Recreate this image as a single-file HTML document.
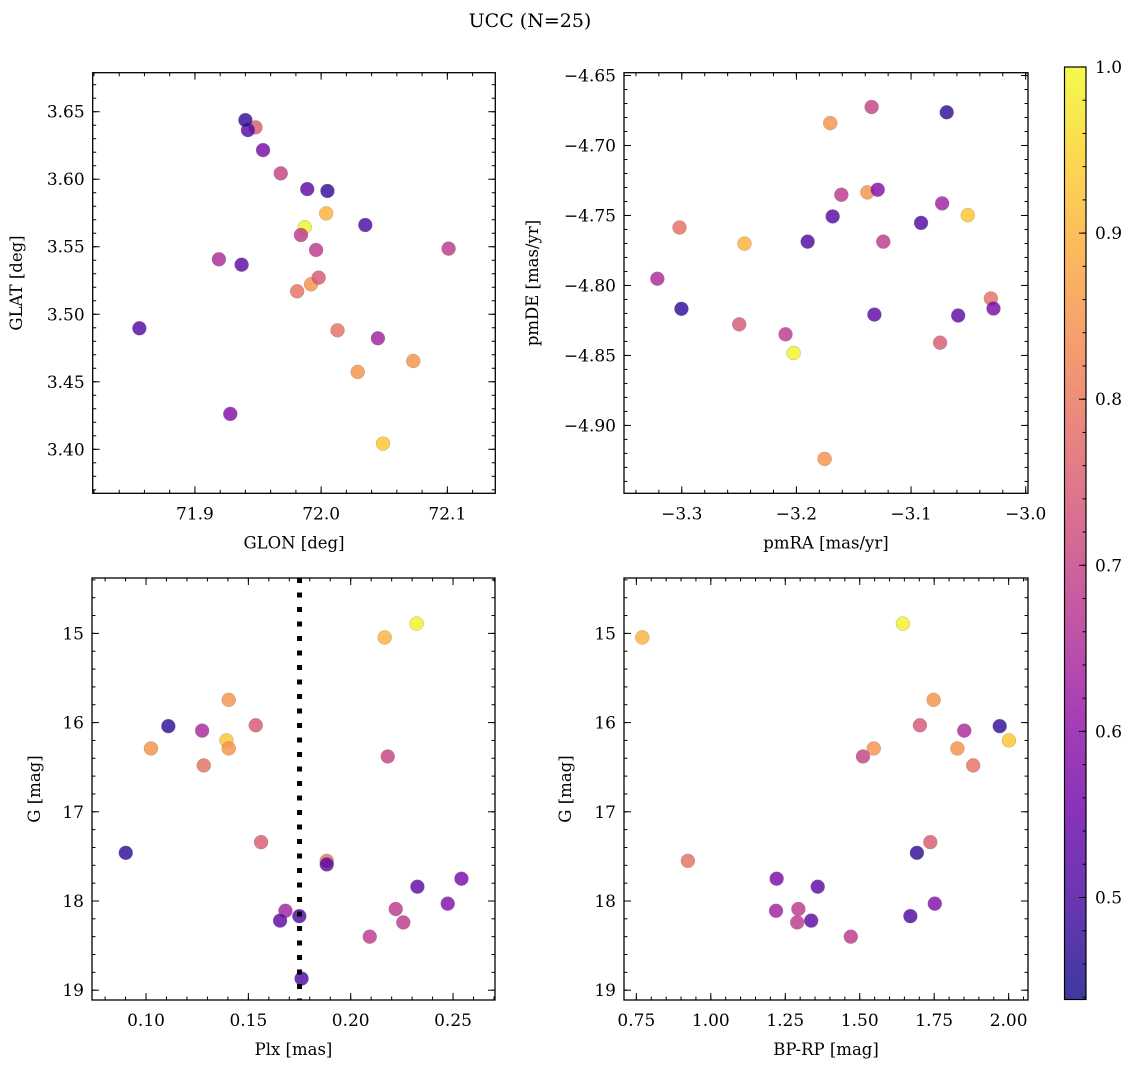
<!DOCTYPE html>
<html><head><meta charset="utf-8">
<style>
html,body{margin:0;padding:0;background:#fff;}
svg{display:block;font-family:"DejaVu Serif","Liberation Serif",serif;}
</style></head>
<body>
<svg id="fig" width="1136" height="1067" viewBox="0 0 1136 1067" xmlns="http://www.w3.org/2000/svg">
<defs>
<linearGradient id="plasmaGrad" x1="0" y1="1" x2="0" y2="0">
<stop offset="0" stop-color="#0d0887"/><stop offset="0.1" stop-color="#41049d"/><stop offset="0.2" stop-color="#6a00a8"/><stop offset="0.3" stop-color="#8f0da4"/><stop offset="0.4" stop-color="#b12a90"/><stop offset="0.5" stop-color="#cc4778"/><stop offset="0.6" stop-color="#e16462"/><stop offset="0.7" stop-color="#f2844b"/><stop offset="0.8" stop-color="#fca636"/><stop offset="0.9" stop-color="#fcce25"/><stop offset="1" stop-color="#f0f921"/>
</linearGradient>
</defs>
<text x="530" y="27" text-anchor="middle" font-size="19">UCC (N=25)</text>
</svg>
<script>
// ---- data (star order) ----
const glon = [71.987,72.049,72.004,72.073,72.029,71.992,71.981,72.013,71.948,71.998,71.968,72.101,71.996,71.984,71.919,72.045,71.928,71.954,71.989,71.937,71.942,71.856,72.035,72.005,71.940];
const glat = [3.5644,3.4042,3.5747,3.4654,3.4573,3.5222,3.5170,3.4881,3.6384,3.5271,3.6043,3.5486,3.5476,3.5587,3.5407,3.4822,3.4262,3.6216,3.5927,3.5367,3.6364,3.4896,3.5661,3.5913,3.6438];
const pmra = [-3.2025,-3.0505,-3.2453,-3.1705,-3.1381,-3.1754,-3.302,-3.0304,-3.0747,-3.2499,-3.1344,-3.1242,-3.2095,-3.1608,-3.3213,-3.0729,-3.1291,-3.0281,-3.132,-3.0589,-3.1684,-3.0913,-3.1902,-3.0689,-3.3003];
const pmde = [-4.8483,-4.7498,-4.7701,-4.684,-4.7335,-4.9239,-4.7586,-4.8093,-4.8409,-4.8278,-4.6725,-4.7687,-4.8349,-4.7352,-4.7952,-4.7414,-4.7316,-4.8165,-4.8208,-4.8215,-4.7507,-4.7553,-4.7687,-4.6763,-4.8167];
const plx = [0.2322,0.1393,0.2166,0.1404,0.1404,0.1024,0.1282,0.1883,0.1562,0.1536,0.2181,0.222,0.2257,0.2093,0.1274,0.1681,0.2474,0.2541,0.2326,0.1655,0.1883,0.1749,0.176,0.1109,0.0901];
const gmag = [14.89,16.20,15.045,15.745,16.29,16.29,16.48,17.55,17.34,16.03,16.38,18.09,18.24,18.40,16.09,18.11,18.03,17.75,17.84,18.22,17.59,18.17,18.87,16.04,17.46];
const bprp = [1.645,2.001,0.770,1.748,1.828,1.547,1.881,0.923,1.737,1.702,1.511,1.294,1.290,1.470,1.851,1.219,1.752,1.221,1.359,1.337,null,1.670,null,1.970,1.692];
const prob = [0.99,0.93,0.90,0.85,0.85,0.85,0.79,0.79,0.75,0.74,0.70,0.68,0.68,0.68,0.65,0.63,0.58,0.57,0.53,0.53,0.52,0.51,0.50,0.47,0.47];
const plxLine = 0.175;
const cbarTicks = [0.5,0.6,0.7,0.8,0.9,1.0];
const vmin = 0.4386, vmax = 1.0;

const NS = "http://www.w3.org/2000/svg";
const svg = document.getElementById('fig');
function el(tag, attrs, parent){const e=document.createElementNS(NS,tag);for(const k in attrs)e.setAttribute(k,attrs[k]);(parent||svg).appendChild(e);return e;}

const stops=[[13,8,135],[65,4,157],[106,0,168],[143,13,164],[177,42,144],[204,71,120],[225,100,98],[242,132,75],[252,166,54],[252,206,37],[240,249,33]];
function plasma(t){t=Math.max(0,Math.min(1,t));const f=t*10;const i=Math.min(9,Math.floor(f));const r=f-i;const a=stops[i],b=stops[i+1];
  return 'rgb('+a.map((v,k)=>Math.round(v+(b[k]-v)*r)).join(',')+')';}
function fmtNum(v,d){const s=Math.abs(v).toFixed(d);return (v<-1e-9?'\u2212':'')+s;}
const TF=17, LF=16.5;

function panel(cfg, xs, ys){
  const g=el('g',{});
  
  
  const {x0,x1,y0,y1}=cfg.box;
  const sx=v=>x0+(v-cfg.xlim[0])/(cfg.xlim[1]-cfg.xlim[0])*(x1-x0);
  const sy=v=>y1-(v-cfg.ylim[0])/(cfg.ylim[1]-cfg.ylim[0])*(y1-y0);
  const pg=el('g',{},g);
  
  
  for(let i=0;i<xs.length;i++){
    if(xs[i]==null||ys[i]==null) continue;
    const c=el('circle',{cx:sx(xs[i]),cy:sy(ys[i]),r:7,fill:plasma((prob[i]-vmin)/(vmax-vmin)),'fill-opacity':0.8,stroke:'#888','stroke-width':0.5,'stroke-opacity':0.6},pg);
    
    
  }
  if(cfg.vline!=null){
    const l=el('line',{x1:sx(cfg.vline),x2:sx(cfg.vline),y1:y0,y2:y1,stroke:'#000','stroke-width':5,'stroke-dasharray':'5 9.5'},g);
    
    
  }
  const tg=el('g',{stroke:'#000','stroke-width':1},g);
  const eps=1e-9;
  function range(lim,step){const a=[];const s=Math.ceil((Math.min(...lim)-eps)/step);const e=Math.floor((Math.max(...lim)+eps)/step);for(let k=s;k<=e;k++)a.push(+(k*step).toFixed(6));return a;}
  range(cfg.xlim,cfg.xminor).forEach(v=>{const x=sx(v);el('line',{x1:x,x2:x,y1:y1,y2:y1-3.5},tg);el('line',{x1:x,x2:x,y1:y0,y2:y0+3.5},tg);});
  range(cfg.ylim,cfg.yminor).forEach(v=>{const y=sy(v);el('line',{x1:x0,x2:x0+3.5,y1:y,y2:y},tg);el('line',{x1:x1,x2:x1-3.5,y1:y,y2:y},tg);});
  range(cfg.xlim,cfg.xmajor).forEach(v=>{const x=sx(v);el('line',{x1:x,x2:x,y1:y1,y2:y1-7},tg);el('line',{x1:x,x2:x,y1:y0,y2:y0+7},tg);
    const t=el('text',{x:x,y:y1+26,'text-anchor':'middle','font-size':TF},g);t.textContent=fmtNum(v,cfg.xdec);
    
    });
  range(cfg.ylim,cfg.ymajor).forEach(v=>{const y=sy(v);el('line',{x1:x0,x2:x0+7,y1:y,y2:y},tg);el('line',{x1:x1,x2:x1-7,y1:y,y2:y},tg);
    const t=el('text',{x:x0-8,y:y+6,'text-anchor':'end','font-size':TF},g);t.textContent=fmtNum(v,cfg.ydec);
    
    });
  const r=el('rect',{x:x0,y:y0,width:x1-x0,height:y1-y0,fill:'none',stroke:'#000','stroke-width':1.3},g);
  
  
  const xl=el('text',{x:(x0+x1)/2,y:y1+55,'text-anchor':'middle','font-size':LF},g);xl.textContent=cfg.xlabel;
  
  
  const cy=(y0+y1)/2;
  const yl=el('text',{x:cfg.ylx,y:cy,'text-anchor':'middle','font-size':LF,transform:'rotate(-90 '+cfg.ylx+' '+cy+')'},g);yl.textContent=cfg.ylabel;
  
  
}

panel({name:'glon-glat-panel',box:{x0:92.7,x1:495.3,y0:72.7,y1:493.3},xlim:[71.819,72.138],ylim:[3.3674,3.6789],xmajor:0.1,xminor:0.02,ymajor:0.05,yminor:0.01,xdec:1,ydec:2,xlabel:'GLON [deg]',ylabel:'GLAT [deg]',ylx:22},glon,glat);
panel({name:'pm-panel',box:{x0:624,x1:1028,y0:72.7,y1:493.3},xlim:[-3.3504,-2.998],ylim:[-4.9485,-4.648],xmajor:0.1,xminor:0.02,ymajor:0.05,yminor:0.01,xdec:1,ydec:2,xlabel:'pmRA [mas/yr]',ylabel:'pmDE [mas/yr]',ylx:538},pmra,pmde);
panel({name:'plx-g-panel',box:{x0:92,x1:495,y0:578,y1:1000},xlim:[0.0736,0.2705],ylim:[19.11,14.379],xmajor:0.05,xminor:0.01,ymajor:1,yminor:0.2,xdec:2,ydec:0,xlabel:'Plx [mas]',ylabel:'G [mag]',ylx:40,vline:plxLine},plx,gmag);
panel({name:'cmd-panel',box:{x0:624,x1:1028,y0:578,y1:1000},xlim:[0.7085,2.065],ylim:[19.11,14.379],xmajor:0.25,xminor:0.05,ymajor:1,yminor:0.2,xdec:2,ydec:0,xlabel:'BP-RP [mag]',ylabel:'G [mag]',ylx:571},bprp,gmag);

const cb={x0:1064.5,x1:1086,y0:67,y1:999.5};
const cg=el('g',{});


el('rect',{x:cb.x0,y:cb.y0,width:cb.x1-cb.x0,height:cb.y1-cb.y0,fill:'url(#plasmaGrad)','fill-opacity':0.8},cg);
el('rect',{x:cb.x0,y:cb.y0,width:cb.x1-cb.x0,height:cb.y1-cb.y0,fill:'none',stroke:'#000','stroke-width':1.2},cg);
const cy=v=>cb.y1-(v-vmin)/(vmax-vmin)*(cb.y1-cb.y0);
for(let k=22;k<=50;k++){const v=k*0.02;if(v<vmin||v>vmax+1e-9)continue;const y=cy(v);el('line',{x1:cb.x1,x2:cb.x1-3.5,y1:y,y2:y,stroke:'#000','stroke-width':1},cg);}
cbarTicks.forEach(v=>{const y=cy(v);el('line',{x1:cb.x1,x2:cb.x1-7,y1:y,y2:y,stroke:'#000','stroke-width':1},cg);
  const t=el('text',{x:cb.x1+9,y:y+6,'font-size':TF},cg);t.textContent=v.toFixed(1);
  
  });
</script>
</body></html>
